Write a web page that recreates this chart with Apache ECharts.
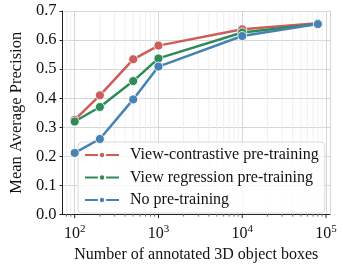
<!DOCTYPE html>
<html><head><meta charset="utf-8">
<script src="https://cdn.jsdelivr.net/npm/echarts@6/dist/echarts.min.js"></script>
<style>html,body{margin:0;padding:0;background:#fff}#c{width:343px;height:268px}</style>
</head><body><div id="c"></div>
<script>
const boxes = [100, 200, 500, 1000, 10000, 80000];
const viewContrastive = [0.326, 0.410, 0.534, 0.581, 0.637, 0.658];
const viewRegression = [0.320, 0.370, 0.459, 0.537, 0.626, 0.655];
const noPretraining = [0.212, 0.260, 0.396, 0.509, 0.614, 0.655];
const seriesNames = ['View-contrastive pre-training', 'View regression pre-training', 'No pre-training'];
const yTicks = [0, 0.1, 0.2, 0.3, 0.4, 0.5, 0.6, 0.7];
const xMajorTicks = [100, 1000, 10000, 100000];

const FONT = '"Liberation Serif", "DejaVu Serif", serif';
const colors = ['#cd5c5c', '#2e8b57', '#4682b4'];
const xMin = Math.pow(10, 1.855), xMax = Math.pow(10, 5.048);

// axis decoration: minor tick values (2..9 x 10^k) within range
const tickMarks = [];
for (let e = 1; e <= 5; e++) {
  for (let m = 1; m <= 9; m++) {
    const v = m * Math.pow(10, e);
    if (v >= xMin && v <= xMax) tickMarks.push([v, m === 1 ? 1 : 0]);
  }
}

function pairs(ys) { return boxes.map((x, i) => [x, ys[i]]); }

const lineSeries = [viewContrastive, viewRegression, noPretraining].map((ys, i) => ({
  type: 'line', name: seriesNames[i], data: pairs(ys), z: 3 + i,
  symbol: 'circle', symbolSize: 9,
  lineStyle: {color: colors[i], width: 2.5},
  itemStyle: {color: colors[i], borderColor: '#fff', borderWidth: 0.8},
  emphasis: {disabled: true}, animation: false
}));

const chart = echarts.init(document.getElementById('c'), null, {renderer: 'canvas'});
chart.setOption({
  animation: false,
  grid: {left: 49, right: 13, top: 11, bottom: 47, containLabel: false},
  xAxis: {
    type: 'log', logBase: 10, min: xMin, max: xMax,
    name: 'Number of annotated 3D object boxes', nameLocation: 'middle', nameGap: 30,
    nameTextStyle: {fontFamily: FONT, fontSize: 16, color: '#111'},
    axisLine: {show: true, lineStyle: {color: '#222', width: 1}},
    axisTick: {show: false},
    splitLine: {show: true, lineStyle: {color: '#d6d6d6', width: 1}},
    axisLabel: {
      showMinLabel: false, showMaxLabel: false, margin: 9,
      fontFamily: FONT, fontSize: 16, color: '#111',
      formatter: function (v) {
        const e = Math.round(Math.log10(v));
        if (Math.abs(Math.log10(v) - e) > 1e-6) return '';
        return '10{sup|' + e + '}';
      },
      rich: {sup: {fontFamily: FONT, fontSize: 11, color: '#111', verticalAlign: 'top', padding: [0, 0, 10, 0]}}
    }
  },
  yAxis: {
    type: 'value', min: 0, max: 0.7, interval: 0.1,
    name: 'Mean Average Precision', nameLocation: 'middle', nameGap: 32,
    nameTextStyle: {fontFamily: FONT, fontSize: 16.5, color: '#111'},
    axisLine: {show: true, lineStyle: {color: '#222', width: 1}},
    axisTick: {show: true, length: 3, lineStyle: {color: '#222'}},
    splitLine: {show: true, lineStyle: {color: '#d6d6d6', width: 1}},
    axisLabel: {margin: 6, fontFamily: FONT, fontSize: 16.5, color: '#111',
      formatter: v => v.toFixed(1)}
  },
  legend: {
    data: seriesNames, orient: 'vertical', left: 78, top: 142,
    itemWidth: 34, itemHeight: 8, itemGap: 6.5,
    padding: [5, 6, 5, 6],
    backgroundColor: 'rgba(255,255,255,0.8)', borderColor: '#d9d9d9', borderWidth: 1, borderRadius: 4,
    textStyle: {fontFamily: FONT, fontSize: 16, lineHeight: 16, color: '#111', padding: [0, 0, 0, 6]}
  },
  series: [{
    type: 'custom', silent: true, z: 1, clip: false, data: tickMarks,
    renderItem: function (params, api) {
      const v = api.value(0), major = api.value(1);
      const top = api.coord([v, 0.7]), bot = api.coord([v, 0]);
      const children = [];
      if (!major) children.push({type: 'line', shape: {x1: bot[0], y1: top[1], x2: bot[0], y2: bot[1]},
        style: {stroke: '#ececec', lineWidth: 0.8}});
      children.push({type: 'line', shape: {x1: bot[0], y1: bot[1], x2: bot[0], y2: bot[1] + (major ? 3.5 : 2)},
        style: {stroke: '#222', lineWidth: major ? 1 : 0.7}});
      return {type: 'group', children: children};
    }
  }].concat(lineSeries)
});
</script></body></html>
